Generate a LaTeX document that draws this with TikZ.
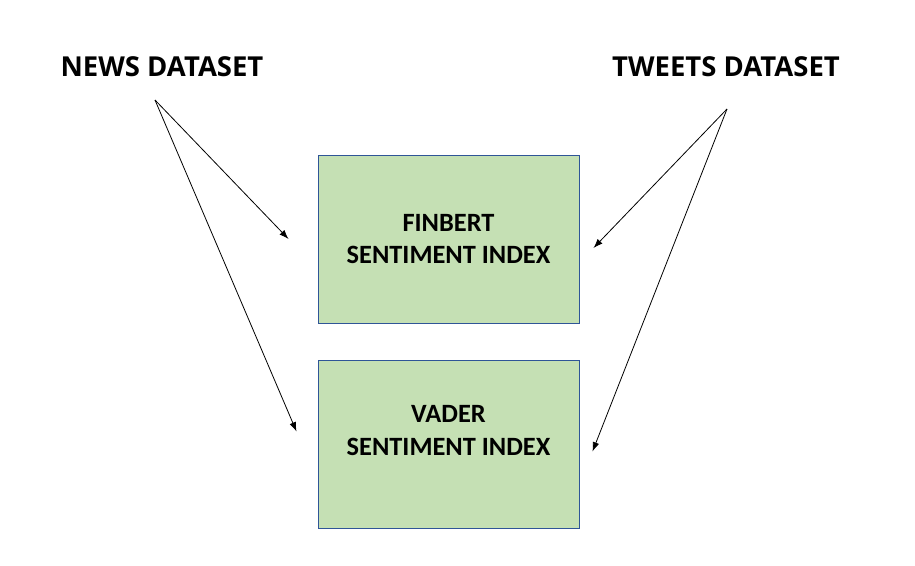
\documentclass[tikz,border=0pt]{standalone}
\usepackage{fontspec}
\setmainfont{Carlito}
\newfontfamily\titlefont{Open Sans}
\usetikzlibrary{arrows.meta,calc}

\definecolor{boxgreen}{HTML}{C5E0B4}
\definecolor{boxblue}{HTML}{2F5597}

\tikzset{
    dataset/.style={font=\titlefont\bfseries\fontsize{20.6}{24}\selectfont, inner sep=0pt},
    indexbox/.style={draw=boxblue, fill=boxgreen, line width=0.75pt,
        minimum width=195.75pt, minimum height=126pt},
    indextext/.style={align=center, inner sep=0pt,
        font=\bfseries\fontsize{19.8}{24.5}\selectfont},
    feed/.style={-{Latex[length=7pt,width=5pt]}, line width=0.6pt, black}
}

\begin{document}
\begin{tikzpicture}[x=0.75pt, y=-0.75pt]

    \useasboundingbox (0,0) rectangle (915,565);

    %Datos
    \node[dataset] (news) at (162,67) {NEWS DATASET};
    \node[dataset] (tweets) at (726,67) {TWEETS DATASET};
    \coordinate (newsout) at (155,100);
    \coordinate (tweetsout) at (727,109);

    %Indices
    \node[indexbox] (finbert) at (448.5,239) {};
    \node[indexbox] (vader) at (448.5,444.5) {};
    \node[indextext] (finberttxt) at (finbert.center) {FINBERT\\SENTIMENT INDEX};
    \node[indextext] (vadertxt) at ($(vader.center)+(0,-14)$) {VADER\\SENTIMENT INDEX};

    %Flechas
    \draw[feed] (newsout) -- ($(finbert.west)+(-29,0)$);
    \draw[feed] (newsout) -- ($(vader.west)+(-21,-13)$);
    \draw[feed] (tweetsout) -- ($(finbert.east)+(14,9)$);
    \draw[feed] (tweetsout) -- ($(vader.east)+(13,7)$);

\end{tikzpicture}
\end{document}
